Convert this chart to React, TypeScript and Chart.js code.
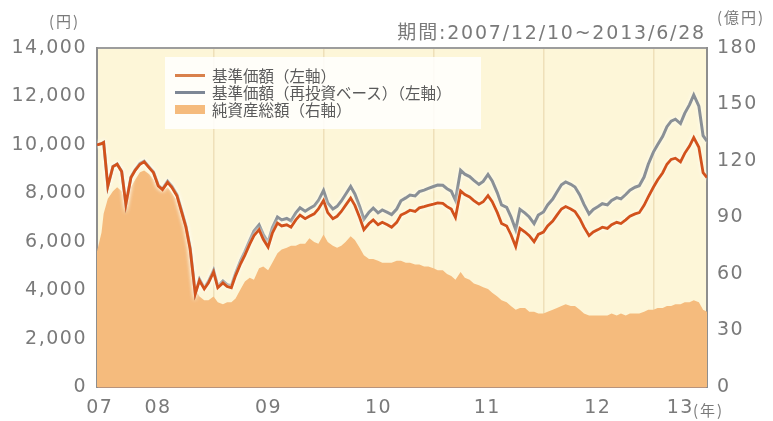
import React, { useEffect, useRef } from "react";
import { Chart, registerables } from "chart.js";

Chart.register(...registerables);

// ---- data (semi-monthly readings) ----
const DATES = [
  "2007-12-10", "2007-12-25",
  "2008-01-01", "2008-01-15", "2008-02-01", "2008-02-15", "2008-03-01", "2008-03-15", "2008-04-01", "2008-04-15", "2008-05-01", "2008-05-15", "2008-06-01", "2008-06-15",
  "2008-07-01", "2008-07-15", "2008-08-01", "2008-08-15", "2008-09-01", "2008-09-15", "2008-10-01", "2008-10-15", "2008-11-01", "2008-11-15", "2008-12-01", "2008-12-15",
  "2009-01-01", "2009-01-15", "2009-02-01", "2009-02-15", "2009-03-01", "2009-03-15", "2009-04-01", "2009-04-15", "2009-05-01", "2009-05-15", "2009-06-01", "2009-06-15",
  "2009-07-01", "2009-07-15", "2009-08-01", "2009-08-15", "2009-09-01", "2009-09-15", "2009-10-01", "2009-10-15", "2009-11-01", "2009-11-15", "2009-12-01", "2009-12-15",
  "2010-01-01", "2010-01-15", "2010-02-01", "2010-02-15", "2010-03-01", "2010-03-15", "2010-04-01", "2010-04-15", "2010-05-01", "2010-05-15", "2010-06-01", "2010-06-15",
  "2010-07-01", "2010-07-15", "2010-08-01", "2010-08-15", "2010-09-01", "2010-09-15", "2010-10-01", "2010-10-15", "2010-11-01", "2010-11-15", "2010-12-01", "2010-12-15",
  "2011-01-01", "2011-01-15", "2011-02-01", "2011-02-15", "2011-03-01", "2011-03-15", "2011-04-01", "2011-04-15", "2011-05-01", "2011-05-15", "2011-06-01", "2011-06-15",
  "2011-07-01", "2011-07-15", "2011-08-01", "2011-08-15", "2011-09-01", "2011-09-15", "2011-10-01", "2011-10-15", "2011-11-01", "2011-11-15", "2011-12-01", "2011-12-15",
  "2012-01-01", "2012-01-15", "2012-02-01", "2012-02-15", "2012-03-01", "2012-03-15", "2012-04-01", "2012-04-15", "2012-05-01", "2012-05-15", "2012-06-01", "2012-06-15",
  "2012-07-01", "2012-07-15", "2012-08-01", "2012-08-15", "2012-09-01", "2012-09-15", "2012-10-01", "2012-10-15", "2012-11-01", "2012-11-15", "2012-12-01", "2012-12-15",
  "2013-01-01", "2013-01-15", "2013-02-01", "2013-02-15", "2013-03-01", "2013-03-15", "2013-04-01", "2013-04-15", "2013-05-01", "2013-05-15", "2013-06-01", "2013-06-15",
  "2013-06-28",
];

// 基準価額（円）
const NAV = [
  10000, 10050,
  10100, 8300, 9100, 9200, 8900, 7550, 8650, 8950, 9200, 9300, 9050, 8850,
  8300, 8150, 8450, 8250, 7900, 7300, 6600, 5700, 3850, 4400, 4050, 4300,
  4750, 4100, 4300, 4150, 4100, 4600, 5100, 5450, 5900, 6250, 6500, 6100,
  5780, 6350, 6770, 6650, 6700, 6600, 6900, 7100, 6950, 7050, 7150, 7350,
  7700, 7200, 6950, 7050, 7250, 7500, 7800, 7500, 7000, 6500, 6750, 6900,
  6700, 6800, 6700, 6600, 6800, 7100, 7200, 7300, 7250, 7400, 7450, 7500,
  7550, 7600, 7580, 7450, 7350, 7000, 8100, 7950, 7850, 7700, 7550, 7650,
  7900, 7650, 7200, 6750, 6650, 6300, 5800, 6550, 6400, 6250, 6000, 6300,
  6400, 6650, 6850, 7100, 7350, 7450, 7350, 7250, 6950, 6600, 6250, 6400,
  6500, 6600, 6550, 6700, 6800, 6750, 6900, 7050, 7150, 7200, 7500, 7850,
  8250, 8550, 8850, 9200, 9400, 9450, 9300, 9650, 9950, 10300, 9900, 8850,
  8650,
];

// 基準価額（再投資ベース）（円）
const NAV_REINVESTED = [
  10000, 10050,
  10100, 8300, 9110, 9210, 8910, 7560, 8670, 8970, 9230, 9330, 9080, 8880,
  8330, 8190, 8500, 8300, 7950, 7350, 6650, 5750, 3880, 4450, 4100, 4360,
  4820, 4170, 4380, 4230, 4180, 4700, 5230, 5590, 6060, 6440, 6700, 6300,
  5980, 6580, 7020, 6900, 6960, 6860, 7190, 7400, 7260, 7370, 7480, 7700,
  8120, 7600, 7350, 7460, 7680, 7950, 8280, 7970, 7450, 6930, 7220, 7390,
  7190, 7310, 7210, 7120, 7350, 7690, 7810, 7930, 7890, 8070, 8130, 8200,
  8280, 8340, 8330, 8190, 8090, 7710, 8950, 8790, 8690, 8530, 8370, 8490,
  8780, 8510, 8020, 7520, 7420, 7040, 6490, 7340, 7180, 7020, 6750, 7100,
  7230, 7520, 7760, 8050, 8350, 8470, 8370, 8260, 7930, 7540, 7150, 7330,
  7450, 7570, 7520, 7700, 7820, 7770, 7950, 8130, 8250, 8310, 8670, 9200,
  9700, 10000, 10350, 10750, 10980, 11060, 10880, 11300, 11660, 12060, 11600, 10380,
  10150,
];

// 純資産総額（億円）
const NET_ASSETS = [
  72, 82,
  92, 100, 104, 106, 104, 97, 106, 110, 114, 115, 113, 110,
  106, 104, 106, 103, 99, 92, 84, 72, 52, 48, 46, 46,
  48, 45, 44, 45, 45, 47, 52, 56, 58, 57, 63, 64,
  62, 66, 71, 73, 74, 75, 75, 76, 76, 79, 77, 76,
  81, 77, 75, 74, 75, 77, 80, 78, 74, 70, 68, 68,
  67, 66, 66, 66, 67, 67, 66, 66, 65, 65, 64, 64,
  63, 62, 62, 60, 59, 57, 61, 58, 57, 55, 54, 53,
  52, 50, 48, 46, 45, 43, 41, 42, 42, 40, 40, 39,
  39, 40, 41, 42, 43, 44, 43, 43, 41, 39, 38, 38,
  38, 38, 38, 39, 38, 39, 38, 39, 39, 39, 40, 41,
  41, 42, 42, 43, 43, 44, 44, 45, 45, 46, 45, 41,
  40,
];

const X_TICK_POS = [2007.965, 2008.495, 2009.5, 2010.5, 2011.49, 2012.495, 2013.245];
const X_TICK_LABELS = ["07", "08", "09", "10", "11", "12", "13"];
const YEAR_LINES = [2009, 2010, 2011, 2012, 2013];
const LEFT_MAX = 14000;
const LEFT_STEP = 2000;
const RIGHT_MAX = 180;
const RIGHT_STEP = 30;
const SERIES_LABELS = ["基準価額（左軸）", "基準価額（再投資ベース）（左軸）", "純資産総額（右軸）"];
const PERIOD_TEXT = "期間:2007/12/10~2013/6/28";

// ---- styles ----
const ORANGE = "#d2521c";
const GRAY = "#8a9096";
const AREA = "#f5bb7d";
const PLOT_BG = "#fdf6d8";
const TEXT = "#7a7a7a";
const NUM_FONT = "'DejaVu Sans', sans-serif";
const JP_FONT = "'Noto Sans CJK JP', sans-serif";

function toYear(s: string): number {
  const [y, m, d] = s.split("-").map(Number);
  const start = Date.UTC(y, 0, 1);
  const end = Date.UTC(y + 1, 0, 1);
  return y + (Date.UTC(y, m - 1, d) - start) / (end - start);
}

const X_VALUES = DATES.map(toYear);
const X_MIN = X_VALUES[0];
const X_MAX = X_VALUES[X_VALUES.length - 1];

const framePlugin = {
  id: "frame",
  beforeDraw(chart: any) {
    const { ctx, chartArea: a } = chart;
    ctx.save();
    ctx.fillStyle = PLOT_BG;
    ctx.fillRect(a.left, a.top, a.right - a.left, a.bottom - a.top);
    ctx.restore();
    ctx.letterSpacing = "1.5px";
  },
  afterDraw(chart: any) {
    chart.ctx.letterSpacing = "0px";
  },
  beforeDatasetDraw(chart: any, args: any) {
    if (args.index < 2) {
      const ctx = chart.ctx;
      ctx.save();
      ctx.shadowColor = "rgba(255,255,245,0.95)";
      ctx.shadowBlur = 4;
    }
  },
  afterDatasetDraw(chart: any, args: any) {
    if (args.index < 2) chart.ctx.restore();
  },
};

export default function App() {
  const ref = useRef<HTMLCanvasElement | null>(null);

  useEffect(() => {
    if (!ref.current) return;
    const mk = (arr: number[]) => arr.map((v, i) => ({ x: X_VALUES[i], y: v }));
    const tickFont = { family: NUM_FONT, size: 19 };
    const chart = new Chart(ref.current, {
      type: "line",
      data: {
        datasets: [
          {
            label: SERIES_LABELS[0],
            data: mk(NAV),
            borderColor: ORANGE,
            borderWidth: 2.8,
            pointRadius: 0,
            fill: false,
            yAxisID: "y",
            xAxisID: "x",
          },
          {
            label: SERIES_LABELS[1],
            data: mk(NAV_REINVESTED),
            borderColor: GRAY,
            borderWidth: 3,
            pointRadius: 0,
            fill: false,
            yAxisID: "y",
            xAxisID: "x",
          },
          {
            label: SERIES_LABELS[2],
            data: mk(NET_ASSETS),
            borderWidth: 0,
            borderColor: AREA,
            backgroundColor: AREA,
            pointRadius: 0,
            fill: "origin",
            yAxisID: "y2",
            xAxisID: "x",
          },
        ],
      },
      options: {
        animation: false,
        responsive: true,
        maintainAspectRatio: false,
        layout: { padding: { top: 48, left: 0, right: 0, bottom: 0 } },
        plugins: { legend: { display: false }, tooltip: { enabled: false } },
        scales: {
          x: {
            type: "linear",
            position: "bottom",
            min: X_MIN,
            max: X_MAX,
            afterBuildTicks: (s: any) => {
              s.ticks = X_TICK_POS.map((v) => ({ value: v }));
            },
            afterFit: (s: any) => {
              s.height = 34;
            },
            ticks: {
              autoSkip: false,
              maxRotation: 0,
              padding: 10,
              font: tickFont,
              color: TEXT,
              callback: (_v: any, i: number) => X_TICK_LABELS[i],
            },
            grid: { display: false, drawTicks: false },
            border: { display: true, color: "#b8937c", width: 2 },
          },
          xg: {
            type: "linear",
            position: "top",
            min: X_MIN,
            max: X_MAX,
            z: 1,
            afterBuildTicks: (s: any) => {
              s.ticks = YEAR_LINES.map((v) => ({ value: v }));
            },
            afterFit: (s: any) => {
              s.height = 0;
            },
            ticks: { display: false },
            grid: { display: true, drawTicks: false, color: "rgba(228,205,160,0.55)", lineWidth: 1.5 },
            border: { display: true, color: "#9d9d9d", width: 2 },
          },
          y: {
            type: "linear",
            position: "left",
            min: 0,
            max: LEFT_MAX,
            afterFit: (s: any) => {
              s.width = 97;
            },
            ticks: {
              stepSize: LEFT_STEP,
              padding: 10,
              font: tickFont,
              color: TEXT,
              callback: (v: any) => Number(v).toLocaleString("en-US"),
            },
            grid: { display: false, drawTicks: false },
            border: { display: true, color: "#8e8e8e", width: 2 },
          },
          y2: {
            type: "linear",
            position: "right",
            min: 0,
            max: RIGHT_MAX,
            afterFit: (s: any) => {
              s.width = 66;
            },
            ticks: {
              stepSize: RIGHT_STEP,
              padding: 10,
              font: tickFont,
              color: TEXT,
            },
            grid: { display: false, drawTicks: false },
            border: { display: true, color: "#8e8e8e", width: 2 },
          },
        },
      },
      plugins: [framePlugin],
    } as any);
    return () => chart.destroy();
  }, []);

  const unitStyle: React.CSSProperties = {
    position: "absolute",
    fontFamily: JP_FONT,
    color: TEXT,
    whiteSpace: "nowrap",
    lineHeight: 1,
  };

  return (
    <div style={{ position: "fixed", left: 0, top: 0, width: 773, height: 421, background: "#fff", overflow: "hidden" }}>
      <canvas ref={ref} style={{ position: "absolute", left: 0, top: 0, width: 773, height: 421 }} />
      <div style={{ ...unitStyle, left: 49, top: 13, fontSize: 15, letterSpacing: 2 }}>(円)</div>
      <div style={{ ...unitStyle, left: 717, top: 9, fontSize: 15, letterSpacing: 2 }}>(億円)</div>
      <div style={{ ...unitStyle, left: 693, top: 402, fontSize: 15, letterSpacing: 2 }}>(年)</div>
      <div
        style={{
          ...unitStyle,
          right: 773 - 706,
          top: 23,
          fontSize: 19,
          letterSpacing: 1.8,
          fontFamily: "'DejaVu Sans', 'Noto Sans CJK JP', sans-serif",
        }}
      >
        {PERIOD_TEXT}
      </div>
      <div
        style={{
          position: "absolute",
          left: 165,
          top: 57,
          width: 316,
          height: 72,
          background: "rgba(255,255,255,0.85)",
        }}
      >
        {SERIES_LABELS.map((lab, i) => (
          <div
            key={lab}
            style={{
              position: "absolute",
              left: 10,
              top: 10 + i * 17,
              height: 17,
              display: "flex",
              alignItems: "center",
              whiteSpace: "nowrap",
            }}
          >
            <span
              style={{
                display: "inline-block",
                width: 30,
                height: i === 2 ? 9 : 3,
                background: i === 0 ? "#d9814c" : i === 1 ? "#7d8795" : AREA,
                marginRight: 7,
              }}
            />
            <span style={{ fontFamily: JP_FONT, fontSize: 15.5, color: "#5a5a5a", lineHeight: 1 }}>{lab}</span>
          </div>
        ))}
      </div>
    </div>
  );
}
